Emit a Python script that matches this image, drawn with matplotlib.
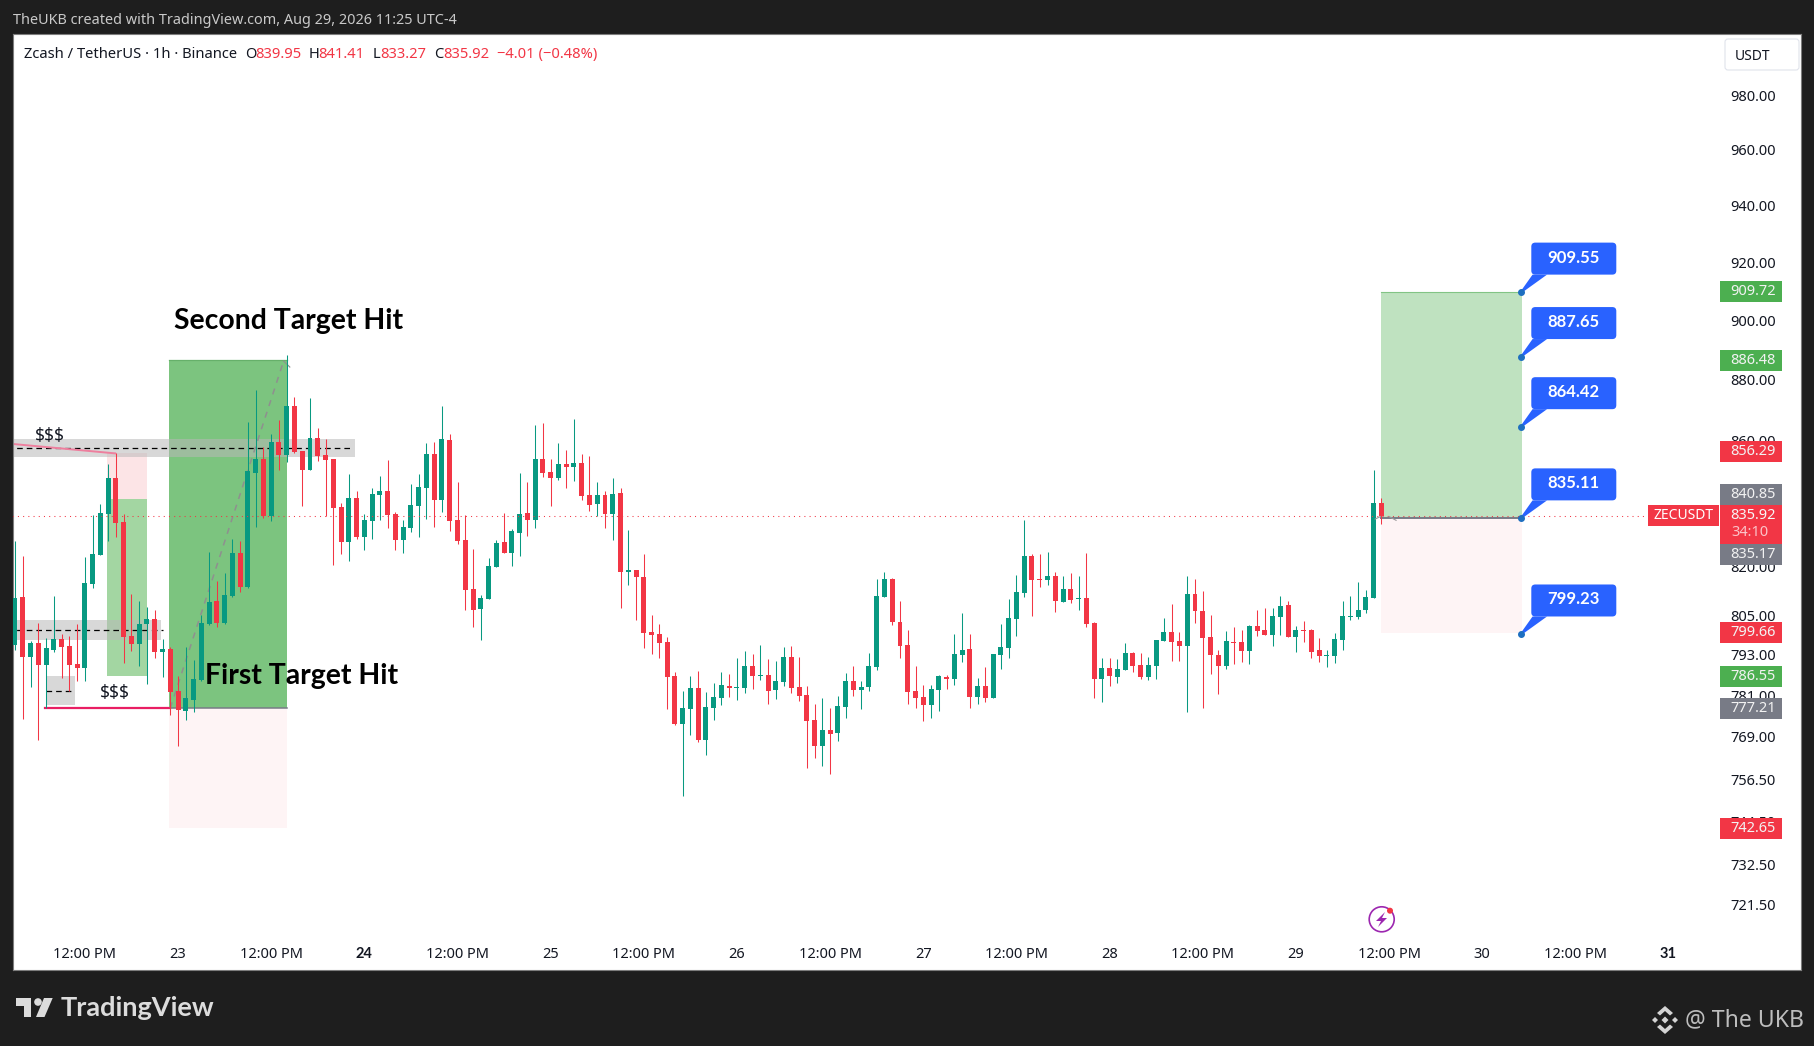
import matplotlib
matplotlib.use('Agg')
import numpy as np
import matplotlib.pyplot as plt
from matplotlib.patches import Rectangle, FancyBboxPatch, Polygon, Circle
from matplotlib.ticker import NullLocator, NullFormatter
from matplotlib.transforms import Affine2D

(W, H, DPI) = (1814, 1046, 100)
plt.rcParams['font.family'] = ['Noto Sans', 'DejaVu Sans']
BOLD = ['Lato', 'DejaVu Sans']
###############################################################################
# Candles
###############################################################################
opens = [
    796.1, 810.7, 792.3, 796.7, 789.9, 794.6, 797.9, 795.8, 790.4, 789.2,
    814.6, 823.6, 836.5, 847.9, 834.0, 798.8, 796.4, 802.2, 803.7, 794.0,
    794.9, 782.1, 776.2, 779.5, 785.6, 802.2, 809.4, 802.5, 810.9, 824.2,
    813.7, 849.5, 854.0, 835.9, 859.5, 855.3, 871.2, 856.6, 850.5, 860.8,
    855.3, 854.0, 838.7, 827.7, 841.6, 829.2, 834.3, 842.5, 843.8, 836.5,
    828.3, 831.9, 839.0, 844.7, 855.5, 840.8, 860.1, 834.5, 828.3, 813.1,
    807.0, 809.8, 819.9, 827.6, 824.2, 830.5, 836.7, 834.5, 854.0, 849.8,
    847.8, 852.3, 851.4, 852.7, 842.4, 839.6, 842.4, 836.4, 843.0, 818.1,
    819.0, 816.8, 800.0, 799.4, 797.0, 786.8, 772.4, 776.8, 783.2, 767.8,
    777.1, 780.3, 783.8, 783.2, 783.2, 789.8, 786.8, 787.1, 782.4, 785.0,
    792.5, 783.5, 781.2, 773.6, 766.0, 770.7, 769.8, 777.4, 785.3, 782.4,
    783.5, 789.5, 810.7, 816.2, 802.8, 796.1, 782.1, 780.6, 778.0, 782.6,
    786.5, 785.9, 793.1, 794.9, 780.6, 783.8, 780.3, 793.1, 795.2, 803.7,
    811.9, 823.3, 816.1, 815.9, 817.1, 809.1, 813.1, 810.0, 810.3, 802.7,
    785.7, 789.0, 786.3, 788.4, 793.7, 790.1, 786.3, 789.8, 797.3, 800.0,
    797.3, 795.8, 811.5, 806.3, 798.5, 793.1, 789.8, 797.0, 797.0, 794.3,
    801.8, 800.6, 799.1, 804.5, 808.2, 798.5, 800.6, 800.6, 794.6, 792.8,
    792.8, 797.6, 804.5, 804.5, 806.6, 810.3, 839.95
]
highs = [
    828.0, 823.3, 797.3, 802.5, 798.1, 810.9, 799.4, 798.8, 802.2, 822.9,
    836.2, 839.6, 852.4, 855.8, 836.5, 811.6, 809.4, 807.4, 806.7, 797.9,
    795.5, 786.8, 795.5, 791.6, 805.2, 824.6, 815.5, 818.0, 828.6, 828.0,
    866.0, 876.5, 857.9, 862.1, 866.6, 888.2, 874.2, 856.6, 873.9, 864.0,
    860.4, 854.0, 840.0, 849.2, 843.8, 836.5, 844.7, 848.5, 853.7, 837.1,
    834.5, 845.9, 849.1, 859.1, 859.4, 871.2, 862.0, 846.6, 836.1, 825.5,
    811.3, 822.7, 828.3, 836.7, 831.7, 849.4, 846.6, 865.0, 865.6, 854.0,
    859.1, 856.8, 867.0, 855.5, 854.9, 846.6, 843.7, 847.8, 844.7, 831.4,
    819.0, 823.9, 805.2, 802.2, 798.5, 788.0, 782.1, 786.8, 788.3, 781.8,
    784.7, 788.0, 787.4, 792.2, 794.3, 793.4, 796.1, 791.9, 791.3, 795.5,
    795.8, 792.5, 783.8, 778.5, 780.3, 777.1, 780.9, 787.7, 789.8, 785.3,
    793.7, 816.2, 818.4, 816.5, 809.2, 800.6, 789.8, 784.1, 784.1, 787.1,
    787.1, 799.4, 805.8, 799.4, 786.2, 789.5, 793.4, 802.2, 809.8, 817.4,
    834.5, 823.9, 823.9, 824.6, 818.4, 816.9, 818.0, 817.1, 824.2, 803.0,
    792.2, 792.2, 791.9, 796.7, 794.0, 793.7, 792.5, 797.6, 804.2, 808.5,
    800.0, 817.1, 816.1, 812.4, 805.1, 794.6, 800.3, 801.5, 800.6, 802.1,
    806.6, 807.3, 807.3, 811.0, 809.4, 801.8, 803.3, 800.9, 798.2, 794.6,
    799.7, 809.4, 811.0, 815.2, 812.7, 850.4, 841.41
]
lows = [
    794.6, 773.9, 783.4, 767.9, 777.3, 793.8, 786.0, 782.2, 785.3, 785.3,
    813.4, 823.6, 828.0, 829.2, 790.7, 794.3, 789.8, 784.2, 792.2, 786.5,
    775.1, 766.1, 773.6, 776.0, 785.1, 801.9, 801.3, 802.2, 810.7, 812.2,
    813.4, 832.4, 835.2, 834.3, 850.5, 853.0, 855.9, 839.0, 850.5, 853.3,
    835.9, 820.5, 823.9, 821.7, 828.6, 825.2, 828.6, 834.6, 832.1, 825.2,
    824.2, 830.7, 829.2, 834.8, 832.3, 837.0, 831.1, 827.0, 806.7, 801.3,
    797.6, 809.8, 819.9, 824.2, 820.2, 823.3, 829.5, 831.9, 848.2, 839.0,
    847.2, 844.7, 846.9, 840.8, 837.3, 835.8, 831.9, 828.3, 807.3, 814.1,
    803.4, 795.2, 793.4, 792.2, 776.8, 772.1, 751.7, 769.2, 767.2, 763.4,
    773.6, 778.0, 780.6, 779.7, 781.5, 782.9, 785.6, 778.5, 780.0, 783.8,
    781.5, 779.4, 759.7, 762.8, 760.5, 758.2, 767.5, 774.4, 780.9, 776.8,
    782.1, 788.6, 810.7, 801.9, 792.2, 778.5, 777.1, 773.3, 774.4, 776.2,
    782.9, 784.1, 791.0, 777.1, 778.3, 779.1, 780.3, 788.9, 792.2, 798.8,
    810.7, 804.6, 813.5, 814.1, 806.1, 809.1, 808.8, 806.6, 801.5, 780.1,
    778.9, 783.6, 784.5, 788.4, 787.8, 785.7, 785.4, 785.7, 797.3, 791.3,
    791.3, 776.0, 802.7, 777.2, 787.2, 781.3, 788.7, 790.4, 791.0, 790.4,
    798.8, 799.1, 795.8, 799.1, 798.5, 794.0, 797.0, 792.2, 791.0, 789.5,
    790.7, 794.6, 803.6, 803.9, 805.7, 810.3, 833.27
]
closes = [
    810.2, 792.3, 796.7, 789.9, 795.1, 797.9, 795.5, 790.1, 789.2, 814.9,
    823.9, 836.8, 847.9, 833.7, 798.5, 796.4, 802.2, 803.7, 794.0, 794.9,
    781.8, 776.5, 780.3, 785.9, 802.5, 809.1, 802.5, 811.2, 824.2, 813.7,
    850.1, 854.0, 835.9, 859.5, 855.3, 871.2, 856.3, 850.5, 860.8, 855.0,
    853.7, 838.4, 827.7, 841.6, 829.2, 834.6, 842.8, 843.8, 836.1, 828.3,
    832.3, 839.3, 845.0, 855.5, 840.8, 860.4, 834.2, 828.0, 812.8, 806.7,
    810.1, 820.2, 827.3, 824.2, 831.1, 836.4, 834.5, 854.0, 849.4, 847.8,
    852.3, 851.4, 852.7, 842.1, 839.3, 842.4, 836.4, 842.7, 818.1, 819.0,
    816.8, 799.7, 799.1, 796.7, 786.5, 772.4, 777.1, 783.2, 767.8, 777.4,
    780.6, 784.1, 783.2, 783.5, 789.8, 786.8, 787.1, 782.1, 785.3, 792.5,
    783.2, 780.9, 773.3, 766.0, 770.7, 769.5, 777.7, 785.3, 782.4, 783.5,
    789.8, 811.0, 816.2, 802.8, 795.8, 781.8, 780.3, 778.0, 782.9, 786.8,
    785.9, 793.4, 794.6, 780.6, 783.8, 780.3, 793.4, 795.5, 804.0, 812.2,
    823.3, 815.9, 815.9, 817.1, 809.2, 813.1, 809.7, 810.3, 802.4, 785.7,
    789.0, 786.6, 788.7, 793.7, 789.8, 786.3, 790.1, 797.6, 800.0, 797.0,
    795.8, 811.5, 806.3, 798.2, 793.1, 789.8, 797.3, 796.7, 794.3, 801.8,
    800.3, 799.1, 804.8, 807.9, 798.5, 800.6, 800.3, 794.0, 792.8, 793.1,
    797.9, 804.8, 804.8, 806.6, 810.6, 839.9, 835.92
]
###############################################################################
# Axes labels and price tags
###############################################################################
yTicks = [
    980, 960, 940, 920, 900, 880, 860, 840, 820, 805, 793, 781, 769,
    756.5, 744.5, 732.5, 721.5
]
xTicks = [9, 21, 33, 45, 57, 69, 81, 93, 105, 117, 129, 141, 153, 165, 177, 189, 201, 213]
xLabels = [
    '12:00 PM', '23', '12:00 PM', '24', '12:00 PM', '25', '12:00 PM', '26',
    '12:00 PM', '27', '12:00 PM', '28', '12:00 PM', '29', '12:00 PM', '30',
    '12:00 PM', '31'
]
boldLabels = ['24', '31']
lastPrice = 835.92
tagPrices = [909.72, 886.48, 856.29, 840.85, 835.17, 799.66, 786.55, 777.21, 742.65]
tagKinds = ['up', 'up', 'down', 'grey', 'grey', 'down', 'up', 'grey', 'down']
tagShift = [0, 0, 0, -5.6, 36.2, 0, 0, 0, 0]
calloutPrices = [909.55, 887.65, 864.42, 835.11, 799.23]
# Drawings --------------------------------------------------------------------
bigTarget = (19.8, 35, 777.21, 886.48, 742.65)
lastTarget = (176, 194.1, 835.17, 909.72, 799.66)
orderBlock = (11.9, 17, 786.6, 841, 856)
upperBand = (43.8, 854.6, 860.4, 857.4)
lowerBand = (18.8, 797.6, 803.4, 800.6)
smallBand = (3.95, 7.73, 778.1, 786.8, 782.3)
###############################################################################
# Setup figure and axes
###############################################################################
(GREEN, RED, BLUE, GREY) = ('#089981', '#f23645', '#2962ff', '#787b86')
TAGCOL = {'up': '#4caf50', 'down': RED, 'grey': GREY}
fig = plt.figure(figsize=(W/DPI, H/DPI), dpi=DPI, facecolor='#1e1e1e')
ax = fig.add_axes([13/W, 1-970/H, (1801-13)/W, (970-34)/H])
ax.set_facecolor('white')
for s in ax.spines.values():
    s.set_color('#7d7d7d')
    s.set_linewidth(.8)
ax.set_yscale('log')
ax.set_xlim(-.258, 230.06)
ax.set_ylim(703.9, 1002.9)
px = Affine2D().scale(1, -1).translate(0, H)


def toY(price):
    return H - ax.transData.transform((0, price))[1]


# Ticks -----------------------------------------------------------------------
ax.yaxis.tick_right()
ax.set_yticks(yTicks, ['{:.2f}'.format(i) for i in yTicks])
ax.yaxis.set_minor_locator(NullLocator())
ax.yaxis.set_minor_formatter(NullFormatter())
ax.tick_params(axis='y', length=0, pad=-51.1, labelsize=10.5, colors='#131722')
ax.set_xticks(xTicks, xLabels)
ax.tick_params(axis='x', length=0, pad=-16.5, labelsize=10.5, colors='#131722')
for t in ax.get_xticklabels():
    if t.get_text() in boldLabels:
        t.set_fontweight('bold')
        t.set_family(BOLD)

# Zones -----------------------------------------------------------------------
(x0, x1, mid, top, bot) = bigTarget
ax.add_patch(Rectangle((x0, mid), x1-x0, top-mid, fc='#7cc47f', ec='none', zorder=1))
ax.add_patch(Rectangle((x0, bot), x1-x0, mid-bot, fc='#fef4f5', ec='none', zorder=1))
ax.plot([x0, x1], [top, top], color='#66b06a', lw=.9, zorder=1.1)
ax.plot([x0, x1], [mid, mid], color=GREY, lw=1.1, zorder=1.1)
(x0, x1, mid, top, bot) = lastTarget
ax.add_patch(Rectangle((x0, mid), x1-x0, top-mid, fc='#bfe2c0', ec='none', zorder=1))
ax.add_patch(Rectangle((x0, bot), x1-x0, mid-bot, fc='#fef4f5', ec='none', zorder=1))
ax.plot([x0, x1], [top, top], color='#82c485', lw=.8, zorder=1.1)
ax.plot([x0, x1], [mid, mid], color=GREY, lw=1.4, zorder=1.1)
(x0, x1, bot, mid, top) = orderBlock
ax.add_patch(Rectangle((x0, bot), x1-x0, mid-bot, fc='#a3d6a2', ec='none', zorder=1))
ax.add_patch(Rectangle((x0, mid), x1-x0, top-mid, fc='#fce4e6', ec='none', zorder=1))
# Bands -----------------------------------------------------------------------
(x1, bot, top, level) = upperBand
ax.add_patch(Rectangle((-1, bot), x1+1, top-bot, fc='#b9b9b9', alpha=.55, ec='none', zorder=2))
ax.plot([-1, x1-.3], [level, level], color='black', lw=.9, dashes=(4.5, 3.2), zorder=2.2)
(x1, bot, top, level) = lowerBand
ax.add_patch(Rectangle((-1, bot), x1+1, top-bot, fc='#b9b9b9', alpha=.55, ec='none', zorder=2))
ax.plot([-1, x1+.2], [level, level], color='black', lw=.9, dashes=(4.5, 3.2), zorder=2.2)
(x0, x1, bot, top, level) = smallBand
ax.add_patch(Rectangle((x0, bot), x1-x0, top-bot, fc='#b9b9b9', alpha=.55, ec='none', zorder=2))
ax.plot([x0, x1-.4], [level, level], color='black', lw=.9, dashes=(4.5, 3.2), zorder=2.2)
# Trend lines -----------------------------------------------------------------
ax.plot([-.1, 12.9], [858.8, 855.8], color='#ee7f9e', lw=1.4, zorder=2.3)
ax.plot([3.8, 20], [777.1, 777.1], color='#e91e63', lw=1.6, zorder=2.3)
ax.plot([20, 34.6], [777.2, 886.2], color='#8f8f8f', lw=1.1, dashes=(4, 4), zorder=2.4)
ax.plot([34.6, 35.4], [886.2, 884.2], color='#8f8f8f', lw=.8, zorder=2.4)
ax.plot([175.2, 175.9], [834.8, 835.6], color='#9a9a9a', lw=.8, zorder=4)
ax.plot([177, 177.9], [835.6, 834.4], color='#9a9a9a', lw=.8, zorder=4)
###############################################################################
# Candles
###############################################################################
xs = np.arange(len(opens))
(op, hi, lo, cl) = [np.array(i) for i in (opens, highs, lows, closes)]
cols = [GREEN if cl[i] >= op[i] else RED for i in xs]
ax.vlines(xs, lo, hi, colors=cols, lw=.75, zorder=3)
ax.bar(
        xs, np.abs(cl-op), bottom=np.minimum(op, cl), width=.64,
        color=cols, linewidth=0, zorder=3.1
    )
ax.plot(
        [-1, 210.4], [lastPrice, lastPrice], color=RED, lw=.75,
        dashes=(1, 4), zorder=3.5
    )
# Notes -----------------------------------------------------------------------
ax.text(4.5, 861.4, '$$$', ha='center', va='center', fontsize=12.5, color='#131722', zorder=5)
ax.text(12.9, 781.7, '$$$', ha='center', va='center', fontsize=12.5, color='#131722', zorder=5)
noteStyle = dict(
        transform=px, va='center', fontsize=20.4, fontweight='bold',
        family=BOLD, color='black', zorder=5
    )
ax.text(173.5, 321, 'Second Target Hit', **noteStyle)
ax.text(205, 676, 'First Target Hit', **noteStyle)
###############################################################################
# Callouts
###############################################################################
for p in calloutPrices:
    xp = ax.transData.transform((194, p))[0]
    yp = toY(p)
    (bTop, bBot) = (yp-49.7, yp-17.7)
    ax.add_patch(Polygon(
            [(xp, yp-1.5), (xp+11.5, bBot), (xp+26, bBot), (xp, yp+1)],
            closed=True, fc=BLUE, ec='none', transform=px, zorder=6, clip_on=False
        ))
    ax.add_patch(FancyBboxPatch(
            (1535.3, bTop+4), 77, 24, boxstyle='round,pad=4,rounding_size=4',
            fc=BLUE, ec='none', transform=px, zorder=6, mutation_aspect=1
        ))
    ax.text(
            1573.7, (bTop+bBot)/2-1, '{:.2f}'.format(p), transform=px,
            ha='center', va='center', color='white', fontsize=12,
            fontweight='bold', family=BOLD, zorder=7
        )
    ax.plot(194, p, 'o', ms=4, color='#1e6fc0', zorder=7)
###############################################################################
# Price scale tags
###############################################################################
(tagX, tagW, tagH) = (1720, 62, 21)
for (price, kind, shift) in zip(tagPrices, tagKinds, tagShift):
    yc = toY(price)+shift
    ax.add_patch(Rectangle(
            (tagX, yc-tagH/2), tagW, tagH, fc=TAGCOL[kind], ec='none',
            transform=px, zorder=6
        ))
    ax.text(
            1776, yc, '{:.2f}'.format(price), transform=px, ha='right',
            va='center', color='#f2f2f2', fontsize=10.5, zorder=7
        )
yl = toY(lastPrice)
ax.add_patch(Rectangle((tagX, 505), tagW, 38.5, fc=RED, ec='none', transform=px, zorder=6))
ax.add_patch(Rectangle((1648, 505), 71, 20.7, fc=RED, ec='none', transform=px, zorder=6))
ax.text(1776, yl, '{:.2f}'.format(lastPrice), transform=px, ha='right', va='center', color='#f7f7f7', fontsize=10.5, zorder=7)
ax.text(1731, 533, '34:10', transform=px, ha='left', va='center', color='#fbc4c9', fontsize=10.5, zorder=7)
ax.text(1683.5, yl, 'ZECUSDT', transform=px, ha='center', va='center', color='white', fontsize=10, zorder=7)
###############################################################################
# Legend row and currency button
###############################################################################
legend = [
        (23.7, 'Zcash / TetherUS · 1h · Binance', '#131722'),
        (245.5, 'O', '#131722'), (255, '839.95', RED),
        (308.8, 'H', '#131722'), (318.7, '841.41', RED),
        (372.9, 'L', '#131722'), (380, '833.27', RED),
        (434.2, 'C', '#131722'), (443.3, '835.92', RED),
        (497.4, '−4.01 (−0.48%)', RED)
    ]
for (xT, txt, col) in legend:
    ax.text(xT, 54.5, txt, transform=px, va='center', color=col, fontsize=10.6, zorder=7)
ax.add_patch(FancyBboxPatch(
        (1727, 41), 70, 27, boxstyle='round,pad=2,rounding_size=3', fc='white',
        ec='#e0e3eb', lw=.8, transform=px, zorder=6, clip_on=False
    ))
ax.text(1753, 56, 'USDT', transform=px, ha='center', va='center', color='#131722', fontsize=10, zorder=7)
# Purple badge ----------------------------------------------------------------
ax.add_patch(Circle((1381.7, 919.3), 12.5, fc='white', ec='#9c27b0', lw=1.2, transform=px, zorder=6))
ax.add_patch(Polygon(
        [(1385, 912), (1376, 921), (1381, 921), (1378, 927), (1387, 918), (1382, 918)],
        closed=True, fc='#9c27b0', ec='none', transform=px, zorder=7
    ))
ax.add_patch(Circle((1390, 910.7), 3, fc=RED, ec='none', transform=px, zorder=7))
###############################################################################
# Chrome
###############################################################################
fig.text(13/W, 1-20.5/H, 'TheUKB created with TradingView.com, Aug 29, 2026 11:25 UTC-4', color='#c9c9c9', fontsize=10.4, va='center')
fig.text(61/W, 1-1008/H, 'TradingView', color='#dcdcdc', fontsize=19.5, fontweight='bold', family=BOLD, va='center')
fig.text(1685/W, 1-1020/H, '@ The UKB', color='#bdbdbd', fontsize=16.6, va='center')
logoCol = '#dcdcdc'
ax.add_patch(Polygon(
        [(15.7, 998), (31, 998), (31, 1017), (23.5, 1017), (23.5, 1005.5), (15.7, 1005.5)],
        fc=logoCol, ec='none', transform=px, clip_on=False, zorder=7
    ))
ax.add_patch(Circle((38, 1002), 3.8, fc=logoCol, ec='none', transform=px, clip_on=False, zorder=7))
ax.add_patch(Polygon(
        [(44, 998), (52.7, 998), (44.5, 1017), (36, 1017)],
        fc=logoCol, ec='none', transform=px, clip_on=False, zorder=7
    ))
# Binance mark ----------------------------------------------------------------
(bx, by, bc) = (1665, 1020, '#d4d4d4')
for (dx, dy, r) in [(0, 0, 3.5), (-10, 0, 3), (10, 0, 3)]:
    ax.add_patch(Polygon(
            [(bx+dx-r, by+dy), (bx+dx, by+dy-r), (bx+dx+r, by+dy), (bx+dx, by+dy+r)],
            fc=bc, ec='none', transform=px, clip_on=False, zorder=7
        ))
for sgn in (-1, 1):
    ax.add_patch(Polygon(
            [(bx-8, by+sgn*7), (bx, by+sgn*14), (bx+8, by+sgn*7), (bx+5, by+sgn*4.5),
             (bx, by+sgn*9), (bx-5, by+sgn*4.5)],
            fc=bc, ec='none', transform=px, clip_on=False, zorder=7
        ))
# Export ----------------------------------------------------------------------
fig.savefig('out.png', dpi=DPI, facecolor=fig.get_facecolor())
